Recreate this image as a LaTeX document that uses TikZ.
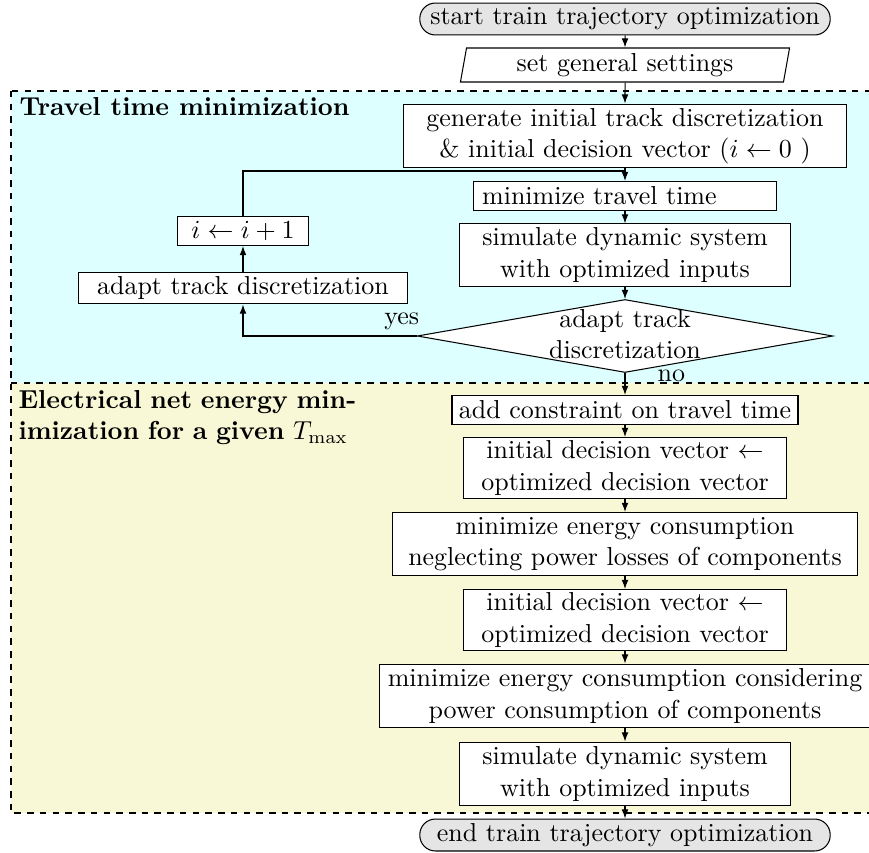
\documentclass[tikz,border=0pt]{standalone}
\usepackage{amsmath}
\usepackage{tikz}
\usetikzlibrary{arrows.meta}
\usetikzlibrary{positioning}
\usetikzlibrary{shapes.geometric}

\definecolor{ttcyan}{RGB}{221,255,255}
\definecolor{enyellow}{RGB}{248,248,214}

\tikzset{
  process/.style={draw,fill=white,rectangle,align=center,inner sep=1pt},
  terminal/.style={draw,fill=gray!20,rectangle,rounded corners=6pt,minimum width=158pt,minimum height=12.3pt,inner sep=1pt},
  io/.style={draw,fill=white,trapezium,trapezium left angle=78,trapezium right angle=102,trapezium stretches body,minimum width=126.7pt,minimum height=13.1pt,inner sep=1pt},
  decision/.style={draw,fill=white,diamond,aspect=5.7,minimum width=160pt,minimum height=28.1pt,inner sep=0pt},
  region/.style={draw,thick,dash pattern=on 2.5pt off 2.4pt},
  regiontitle/.style={anchor=north west,inner sep=0pt,font=\bfseries,align=left},
  flow/.style={-{Latex[length=3.5pt,width=2.6pt]}}
}

\begin{document}
\begin{tikzpicture}[x=0.385pt,y=-0.385pt]
  \useasboundingbox (0,0) rectangle (869,852);

  % regions
  \fill[ttcyan] (11,91) rectangle (890,383);
  \fill[enyellow] (11,383) rectangle (890,813);
  \draw[region] (11,91) rectangle (890,813);
  \draw[region] (11,383) -- (890,383);
  \node[regiontitle] (tttitle) at (19,97) {Travel time minimization};
  \node[regiontitle,text width=132pt] (entitle) at (18,390) {Electrical net energy min-\\imization for a given $T_{\max}$};

  % travel time part
  \node[terminal] (start) at (625,19) {start train trajectory optimization};
  \node[io] (settings) at (625,65) {set general settings};
  \node[process,minimum width=170.6pt,minimum height=24.6pt] (gen) at (625,136) {generate initial track discretization\\\& initial decision vector ($i \leftarrow 0$ )};
  \coordinate (join) at (625,171);
  \node[process,text width=110pt,align=left,inner xsep=3.5pt,minimum height=11.2pt] (mintime) at (625,196) {minimize travel time};
  \node[process,minimum width=127.4pt,minimum height=23.9pt] (sim) at (625,255) {simulate dynamic system\\with optimized inputs};
  \node[decision] (check) at (625,336) {\smash{\raisebox{-8.5pt}{\shortstack{adapt track\\discretization}}}};
  \node[process,minimum width=127pt,minimum height=12.3pt] (adapt) at (243,288) {adapt track discretization};
  \node[process,minimum width=50.8pt,minimum height=11.2pt] (inc) at (243,231) {$i \leftarrow i+1$};

  % energy part
  \node[process,minimum width=133.2pt,minimum height=11.2pt] (constr) at (625,410) {add constraint on travel time};
  \node[process,minimum width=124.7pt,minimum height=23.5pt] (init1) at (625,468) {initial decision vector $\leftarrow$\\optimized decision vector};
  \node[process,minimum width=179pt,minimum height=24.3pt] (minen1) at (625,544) {minimize energy consumption\\neglecting power losses of components};
  \node[process,minimum width=124.7pt,minimum height=23.5pt] (init2) at (625,620) {initial decision vector $\leftarrow$\\optimized decision vector};
  \node[process,minimum width=188.7pt,minimum height=24.6pt] (minen2) at (625,696) {minimize energy consumption considering\\power consumption of components};
  \node[process,minimum width=127.4pt,minimum height=24.6pt] (sim2) at (625,774) {simulate dynamic system\\with optimized inputs};
  \node[terminal] (stop) at (625,835) {end train trajectory optimization};

  \draw[flow] (start) -- (settings);
  \draw[flow] (settings) -- (gen);
  \draw[flow] (gen) -- (mintime);
  \draw[flow] (mintime) -- (sim);
  \draw[flow] (sim) -- (check);
  \draw[flow] (check.west) -| node[pos=0.043,above,inner sep=2pt]{yes} (adapt.south);
  \draw[flow] (adapt) -- (inc);
  \draw (inc.north) |- (join);
  \draw[flow] (check.south) -- node[pos=0.15,right=9pt]{no} (constr.north);
  \draw[flow] (constr) -- (init1);
  \draw[flow] (init1) -- (minen1);
  \draw[flow] (minen1) -- (init2);
  \draw[flow] (init2) -- (minen2);
  \draw[flow] (minen2) -- (sim2);
  \draw[flow] (sim2) -- (stop);
\end{tikzpicture}
\end{document}
